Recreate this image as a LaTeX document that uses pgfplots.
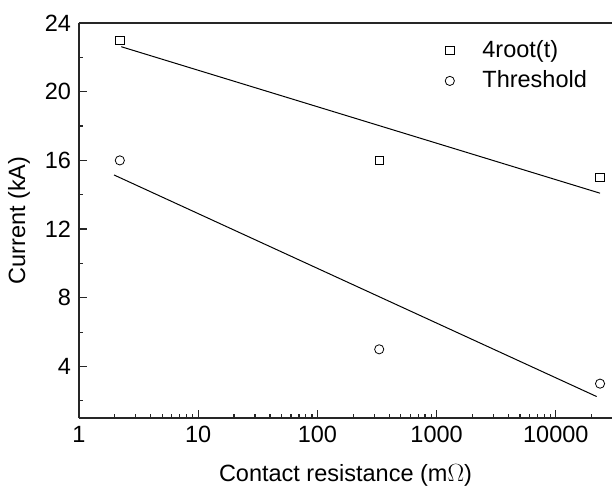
\documentclass[border=0pt]{standalone}
\usepackage{pgfplots}
\pgfplotsset{compat=1.18}
\usepackage{fontspec}
\setmainfont{Liberation Sans}
\begin{document}
\fontsize{23.5}{28}\selectfont
\begin{tikzpicture}
\begin{axis}[
  scale only axis,
  width=533pt, height=395pt,
  xmode=log,
  xmin=1, xmax=29610,
  ymin=1, ymax=24,
  axis x line*=box,
  axis y line*=left,
  xtick pos=bottom, ytick pos=left,
  xtick={1,10,100,1000,10000},
  xticklabels={1,10,100,1000,10000},
  minor xtick={2,3,4,5,6,7,8,9,20,30,40,50,60,70,80,90,200,300,400,500,600,700,800,900,2000,3000,4000,5000,6000,7000,8000,9000,20000},
  ytick={4,8,12,16,20,24},
  minor ytick={2,6,10,14,18,22},
  tick align=inside,
  major tick length=8pt, minor tick length=4.5pt,
  axis line style={line width=1.3pt, color=black!85},
  every tick/.style={line width=1.2pt, color=black!85},
  /pgf/number format/assume math mode=true,
  tick label style={font=\fontsize{23.5}{28}\selectfont},
  label style={font=\fontsize{23.5}{28}\selectfont},
  xlabel={Contact resistance (m$\Omega$)},
  ylabel={Current (kA)},
  xlabel style={yshift=-6pt},
  ylabel style={yshift=-1pt},
  legend style={draw=none, fill=none, at={(axis cs:1110,23.25)}, anchor=north west,
    font=\fontsize{23.5}{28}\selectfont, row sep=6pt,
    legend cell align=left},
  legend image code/.code={\draw[#1] plot coordinates {(0.3cm,0cm)};},
]
\addplot[only marks, mark=square, mark size=4.2pt, black, line width=0.8pt] coordinates {
  (2.2,23) (330,16) (23500,15)
};
\addlegendentry{\hspace{26pt}4root(t)}
\addplot[only marks, mark=o, mark size=4.6pt, black, line width=0.8pt] coordinates {
  (2.2,16) (330,5) (23500,3)
};
\addlegendentry{\hspace{26pt}Threshold}
\addplot[black, line width=1pt, forget plot] coordinates {(2.26,22.62) (23500,14.09)};
\addplot[black, line width=1pt, forget plot] coordinates {(1.97,15.15) (22000,2.25)};
\end{axis}
\pgfresetboundingbox
\path (-79pt,-70pt) rectangle (533pt,418pt);
\end{tikzpicture}
\end{document}
